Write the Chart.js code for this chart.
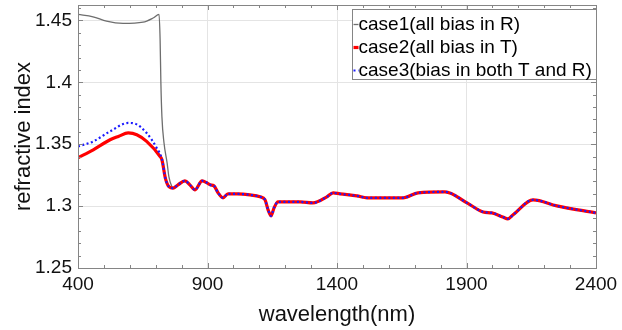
<!DOCTYPE html>
<html>
<head>
<meta charset="utf-8">
<script src="https://cdn.jsdelivr.net/npm/chart.js@4.4.1/dist/chart.umd.min.js"></script>
<style>
  body { margin: 0; background: #fff; }
  canvas { display: block; }
</style>
</head>
<body>
<canvas id="myChart" width="622" height="330"></canvas>
<script>
// wavelength (nm) / refractive index, read per case
const case1HeadWl = [400, 458, 510, 574, 651, 690, 713, 717, 720, 724, 732, 744, 751, 763];
const case1HeadN = [1.4549, 1.4530, 1.4494, 1.4476, 1.4486, 1.4520, 1.4549, 1.4346, 1.3998, 1.3723, 1.3512, 1.3350, 1.3237, 1.3156];

const case2HeadWl = [400, 459, 524, 556, 594, 627, 665, 717, 724];
const case2HeadN = [1.3391, 1.3455, 1.3536, 1.3563, 1.3591, 1.3577, 1.3523, 1.3401, 1.3375];

const case3HeadWl = [400, 459, 524, 594, 620, 665, 704, 724];
const case3HeadN = [1.3482, 1.3523, 1.3604, 1.3672, 1.3666, 1.3591, 1.3469, 1.3380];

// all three cases share this part of the curve
const tailWl = [738, 752, 767, 786, 813, 832, 852, 879, 898, 910, 925, 941, 960, 979, 1014, 1064, 1103, 1122, 1134, 1145, 1157, 1172, 1219, 1257, 1307, 1361, 1385, 1412, 1477, 1516, 1655, 1713, 1817, 1902, 1964, 1998, 2040, 2060, 2080, 2157, 2249, 2400];
const tailN = [1.3220, 1.3155, 1.3145, 1.3172, 1.3204, 1.3172, 1.3132, 1.3204, 1.3188, 1.3172, 1.3164, 1.3107, 1.3067, 1.3099, 1.3099, 1.3091, 1.3075, 1.3051, 1.2970, 1.2921, 1.2986, 1.3034, 1.3034, 1.3034, 1.3026, 1.3075, 1.3107, 1.3099, 1.3083, 1.3067, 1.3067, 1.3107, 1.3115, 1.3026, 1.2953, 1.2945, 1.2912, 1.2897, 1.2930, 1.3051, 1.3002, 1.2945];

const xTicks = [400, 900, 1400, 1900, 2400];
const xTickLabels = ["400", "900", "1400", "1900", "2400"];
const yTicks = [1.25, 1.3, 1.35, 1.4, 1.45];
const yTickLabels = ["1.25", "1.3", "1.35", "1.4", "1.45"];

const seriesNames = ["case1(all bias in R)", "case2(all bias in T)", "case3(bias in both T and R)"];

function toPoints(wl, n) {
  return wl.map((x, i) => ({ x: x, y: n[i] }));
}
function withTail(wl, n) {
  const last = wl[wl.length - 1];
  const pts = toPoints(wl, n);
  tailWl.forEach((x, i) => {
    if (x > last) pts.push({ x: x, y: tailN[i] });
  });
  return pts;
}

const FONT = "'Liberation Sans', Arial, sans-serif";

// box, inside ticks on all four sides
const frameTicks = {
  id: "frameTicks",
  afterDatasetsDraw(chart) {
    const { ctx, chartArea: a, scales } = chart;
    const xs = scales.x, ys = scales.y;
    ctx.save();
    ctx.strokeStyle = "#858585";
    ctx.lineWidth = 1;
    ctx.beginPath();
    for (let v = 400; v <= 2400; v += 100) {
      const px = Math.round(xs.getPixelForValue(v)) + 0.5;
      const len = (v - 400) % 500 === 0 ? 5 : 3;
      ctx.moveTo(px, a.bottom); ctx.lineTo(px, a.bottom - len);
      ctx.moveTo(px, a.top); ctx.lineTo(px, a.top + len);
    }
    for (let k = 125; k <= 146; k++) {
      const py = Math.round(ys.getPixelForValue(k / 100)) + 0.5;
      const len = k % 5 === 0 ? 5 : 3;
      ctx.moveTo(a.left, py); ctx.lineTo(a.left + len, py);
      ctx.moveTo(a.right, py); ctx.lineTo(a.right - len, py);
    }
    ctx.stroke();
    ctx.strokeRect(Math.round(a.left) + 0.5, Math.round(a.top) + 0.5,
      Math.round(a.right - a.left), Math.round(a.bottom - a.top));
    ctx.restore();
  }
};

// legend box in the upper right corner of the plot
const boxLegend = {
  id: "boxLegend",
  afterDraw(chart) {
    const { ctx, chartArea: a } = chart;
    const w = 244, h = 70;
    const x0 = Math.round(a.right) - w + 0.5, y0 = Math.round(a.top) + 4.5;
    ctx.save();
    ctx.fillStyle = "#fff";
    ctx.fillRect(x0, y0, w, h);
    ctx.strokeStyle = "#858585";
    ctx.lineWidth = 1;
    ctx.strokeRect(x0, y0, w, h);
    ctx.font = "19px " + FONT;
    ctx.textBaseline = "middle";
    ctx.fillStyle = "#000";
    chart.data.datasets.forEach((ds, i) => {
      const cy = y0 + 15 + i * 23;
      ctx.strokeStyle = ds.borderColor;
      ctx.lineWidth = ds.borderWidth;
      ctx.setLineDash(ds.borderDash || []);
      ctx.beginPath();
      ctx.moveTo(x0 + 1, cy);
      ctx.lineTo(x0 + 6, cy);
      ctx.stroke();
      ctx.setLineDash([]);
      ctx.fillText(ds.label, x0 + 6, cy);
    });
    ctx.restore();
  }
};

const ctx = document.getElementById("myChart").getContext("2d");
const myChart = new Chart(ctx, {
  type: "line",
  data: {
    datasets: [
      {
        label: seriesNames[0],
        data: withTail(case1HeadWl, case1HeadN),
        borderColor: "#6e6e6e",
        borderWidth: 1.3,
        order: 3,
      },
      {
        label: seriesNames[1],
        data: withTail(case2HeadWl, case2HeadN),
        borderColor: "#ff0000",
        borderWidth: 3.2,
        order: 2,
      },
      {
        label: seriesNames[2],
        data: withTail(case3HeadWl, case3HeadN),
        borderColor: "#1a1aff",
        borderWidth: 2.2,
        borderDash: [2, 2.5],
        order: 1,
      },
    ],
  },
  options: {
    responsive: false,
    animation: false,
    layout: { padding: { top: 5, right: 26, left: 0, bottom: 0 } },
    elements: {
      point: { radius: 0 },
      line: { cubicInterpolationMode: "monotone", fill: false },
    },
    plugins: {
      legend: { display: false },
      tooltip: { enabled: false },
    },
    scales: {
      x: {
        type: "linear",
        min: 400,
        max: 2400,
        afterBuildTicks: (s) => { s.ticks = xTicks.map((v) => ({ value: v })); },
        afterFit: (s) => { s.height = 62; s.paddingLeft = 0; s.paddingRight = 0; },
        grid: { color: "#e4e4e4", drawTicks: false },
        border: { display: false },
        ticks: {
          color: "#111",
          padding: 5,
          maxRotation: 0,
          font: { family: FONT, size: 19 },
          callback: (v, i) => xTickLabels[i],
        },
        title: {
          display: true,
          text: "wavelength(nm)",
          color: "#111",
          font: { family: FONT, size: 22 },
          padding: { top: 0, bottom: 2 },
        },
      },
      y: {
        type: "linear",
        min: 1.25,
        max: 1.4625,
        afterBuildTicks: (s) => { s.ticks = yTicks.map((v) => ({ value: v })); },
        afterFit: (s) => { s.width = 78; s.paddingTop = 0; s.paddingBottom = 0; },
        grid: { color: "#e4e4e4", drawTicks: false },
        border: { display: false },
        ticks: {
          color: "#111",
          padding: 6,
          font: { family: FONT, size: 19 },
          callback: (v, i) => yTickLabels[i],
        },
        title: {
          display: true,
          text: "refractive index",
          color: "#111",
          font: { family: FONT, size: 22 },
          padding: { top: 11, bottom: 0 },
        },
      },
    },
  },
  plugins: [frameTicks, boxLegend],
});
</script>
</body>
</html>
